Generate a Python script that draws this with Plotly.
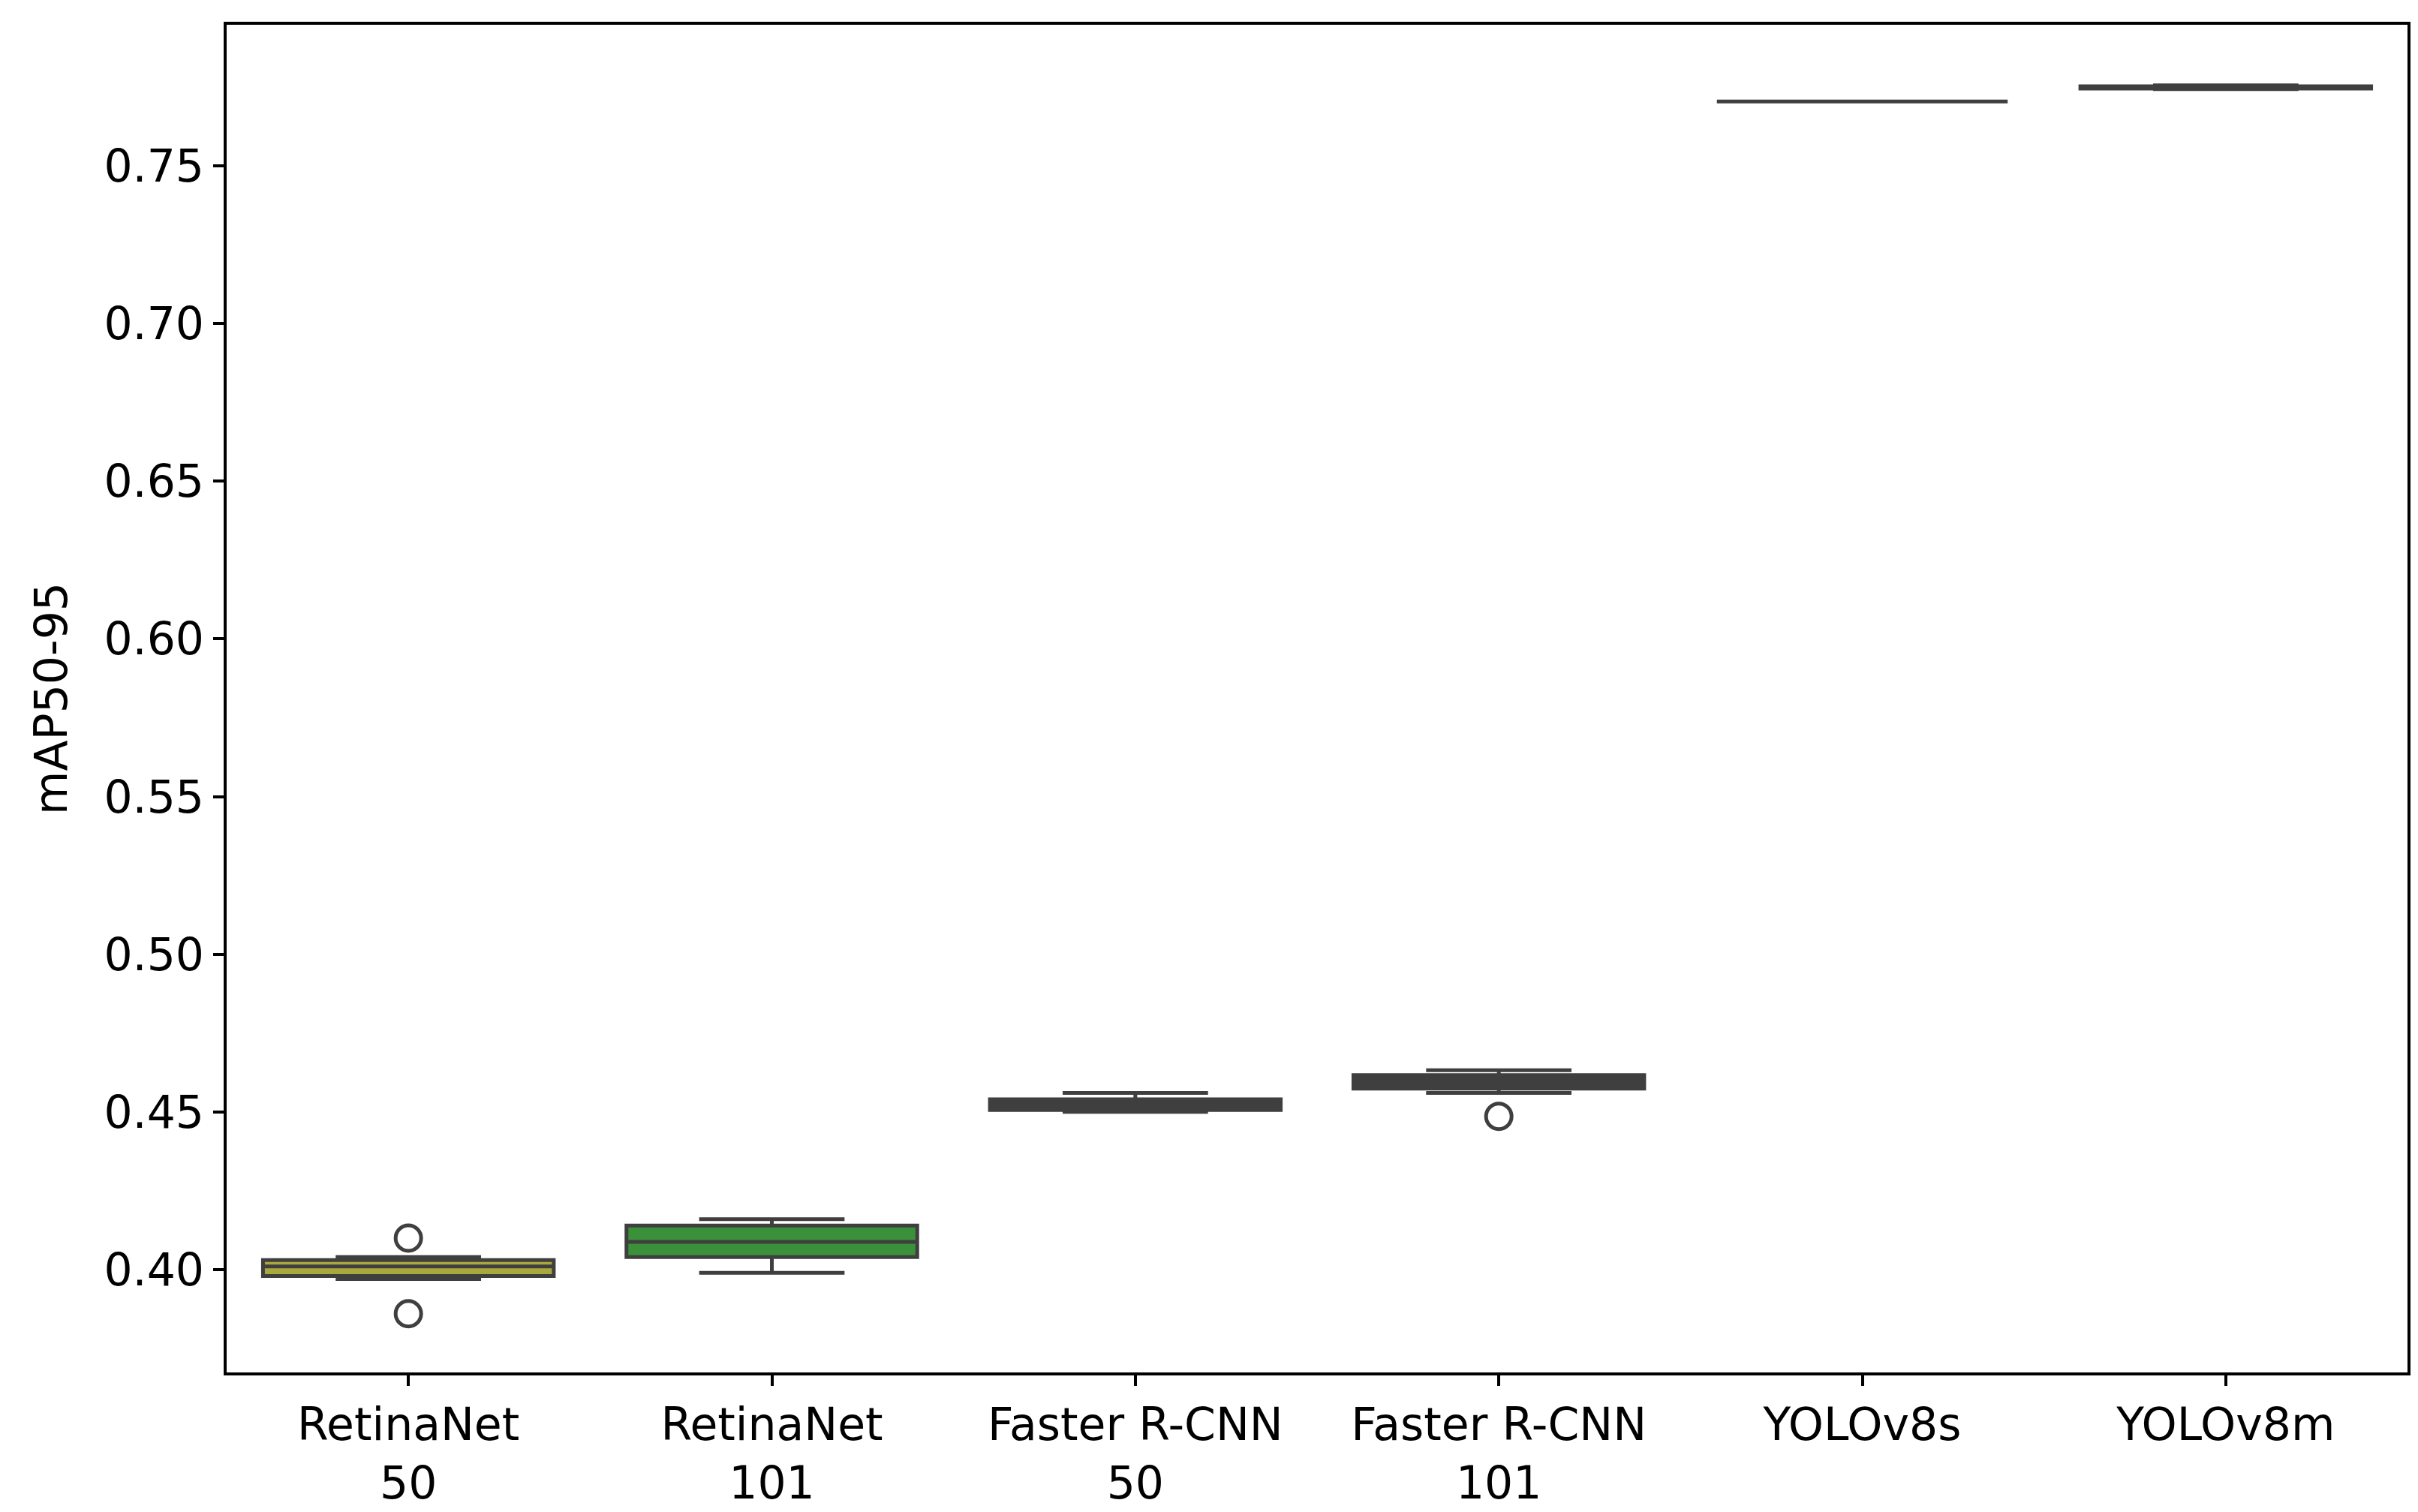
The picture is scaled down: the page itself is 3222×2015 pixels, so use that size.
import plotly.graph_objects as go

categories = ["RetinaNet<br>50", "RetinaNet<br>101", "Faster R-CNN<br>50", "Faster R-CNN<br>101", "YOLOv8s", "YOLOv8m"]
lower_fence = [0.397, 0.399, 0.4500, 0.4560, 0.7704, 0.7743]
q1 = [0.398, 0.404, 0.4506, 0.4574, 0.7704, 0.7745]
median = [0.401, 0.4088, 0.4520, 0.4595, 0.7704, 0.7748]
q3 = [0.403, 0.414, 0.4540, 0.4617, 0.7704, 0.7752]
upper_fence = [0.404, 0.416, 0.4560, 0.4632, 0.7704, 0.7755]
outlier_cat = ["RetinaNet<br>50", "RetinaNet<br>50", "Faster R-CNN<br>101"]
outlier_val = [0.410, 0.386, 0.4486]
fills = ["#a8a83c", "#3a913a", "#3f3f3f", "#3f3f3f", "#3f3f3f", "#3f3f3f"]

LINE = "#3f3f3f"
fig = go.Figure()
for i, c in enumerate(categories):
    fig.add_trace(go.Box(
        x=[c], q1=[q1[i]], median=[median[i]], q3=[q3[i]],
        lowerfence=[lower_fence[i]], upperfence=[upper_fence[i]],
        width=0.8, whiskerwidth=0.5, fillcolor=fills[i],
        line=dict(color=LINE, width=5), boxpoints=False, showlegend=False))
fig.add_trace(go.Scatter(
    x=outlier_cat, y=outlier_val, mode="markers", showlegend=False,
    marker=dict(symbol="circle-open", size=34, color=LINE, line=dict(width=5, color=LINE))))

axis_common = dict(showline=True, mirror=True, linecolor="black", linewidth=4,
                   ticks="outside", ticklen=14, tickwidth=4, tickcolor="black",
                   showgrid=False, zeroline=False,
                   tickfont=dict(family="DejaVu Sans", size=60, color="black"))
fig.update_layout(
    width=3222, height=2015, plot_bgcolor="white", paper_bgcolor="white",
    margin=dict(l=294, r=22, t=25, b=184), boxmode="overlay",
    font=dict(family="DejaVu Sans", color="black"),
    xaxis=dict(type="category", categoryorder="array", categoryarray=categories,
               range=[-0.5, 5.5], **axis_common),
    yaxis=dict(range=[0.3674, 0.7947], tickvals=[0.40, 0.45, 0.50, 0.55, 0.60, 0.65, 0.70, 0.75],
               tickformat=".2f",
               title=dict(text="mAP50-95", font=dict(family="DejaVu Sans", size=60), standoff=30),
               **axis_common),
)
fig.write_html("out.html")
